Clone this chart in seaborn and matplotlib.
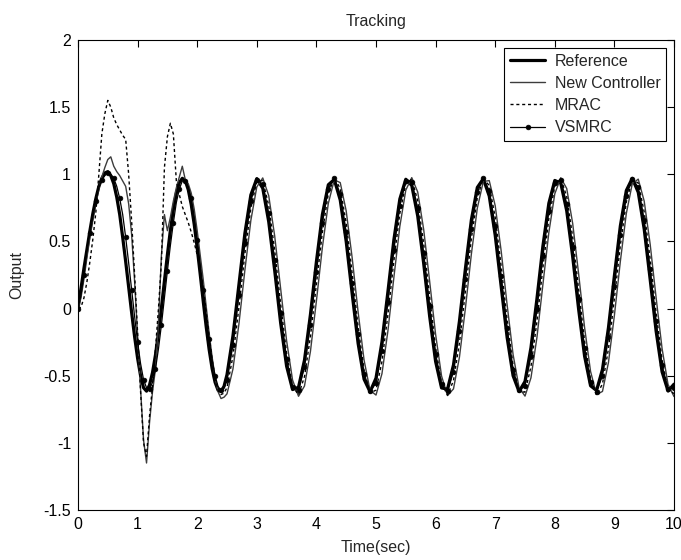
import numpy as np
import pandas as pd
import matplotlib
matplotlib.use("Agg")
import matplotlib.pyplot as plt
import seaborn as sns

# Sample times: fine steps during the start-up transient, coarser afterwards
t_start = np.round(np.arange(0.0, 2.5, 0.05), 2)
t_rest = np.round(np.arange(2.5, 10.0001, 0.1), 2)
time = np.concatenate([t_start, t_rest])

series_names = ["Reference", "New Controller", "MRAC", "VSMRC"]

reference_start = [
    0.00, 0.15, 0.30, 0.44, 0.58, 0.71, 0.82, 0.91, 0.97, 1.01,
    1.02, 0.99, 0.93, 0.83, 0.70, 0.53, 0.35, 0.16, -0.03, -0.21,
    -0.37, -0.50, -0.59, -0.615, -0.569, -0.477, -0.345, -0.180, 0.007, 0.205,
    0.401, 0.583, 0.739, 0.859, 0.938, 0.970, 0.952, 0.885, 0.774, 0.627,
    0.451, 0.258, 0.059, -0.132, -0.304, -0.446, -0.549, -0.608, -0.618, -0.579,
]
reference_rest = [
    -0.492, -0.203, 0.178, 0.560, 0.846, 0.968, 0.896, 0.647, 0.284, -0.107,
    -0.429, -0.603, -0.586, -0.384, -0.044, 0.349, 0.700, 0.922, 0.961, 0.808,
    0.499, 0.111, -0.260, -0.526, -0.620, -0.518, -0.248, 0.126, 0.512, 0.816,
    0.963, 0.917, 0.689, 0.336, -0.057, -0.394, -0.591, -0.600, -0.420, -0.094,
    0.297, 0.660, 0.902, 0.967, 0.838, 0.546, 0.165, -0.215, -0.500, -0.618,
    -0.543, -0.291, 0.072, 0.464, 0.784, 0.954, 0.934, 0.728, 0.387, -0.006,
    -0.355, -0.575, -0.610, -0.453, -0.143, 0.245, 0.616, 0.879, 0.970, 0.866,
    0.592, 0.217, -0.168, -0.471, -0.614, -0.563,
]

new_controller_start = [
    0.00, 0.08, 0.22, 0.38, 0.53, 0.66, 0.78, 0.89, 0.98, 1.05,
    1.11, 1.13, 1.06, 1.02, 0.99, 0.95, 0.91, 0.78, 0.55, 0.20,
    -0.20, -0.60, -0.98, -1.15, -0.85, -0.62, -0.45, -0.10, 0.40, 0.70,
    0.58, 0.68, 0.80, 0.90, 0.98, 1.06, 0.96, 0.93, 0.86, 0.74,
    0.58, 0.40, 0.22, 0.02, -0.18, -0.36, -0.51, -0.62, -0.67, -0.66,
]
new_controller_rest = [
    -0.635, -0.450, -0.115, 0.286, 0.656, 0.906, 0.973, 0.841, 0.541, 0.149,
    -0.239, -0.532, -0.653, -0.577, -0.319, 0.056, 0.455, 0.783, 0.959, 0.938,
    0.727, 0.378, -0.026, -0.384, -0.609, -0.644, -0.485, -0.166, 0.232, 0.612,
    0.882, 0.975, 0.868, 0.589, 0.204, -0.192, -0.502, -0.648, -0.598, -0.362,
    0.002, 0.405, 0.748, 0.946, 0.953, 0.766, 0.430, 0.028, -0.342, -0.588,
    -0.652, -0.516, -0.216, 0.178, 0.566, 0.855, 0.974, 0.894, 0.634, 0.258,
    -0.142, -0.468, -0.640, -0.617, -0.402, -0.051, 0.352, 0.708, 0.930, 0.964,
    0.800, 0.480, 0.081, -0.298, -0.565, -0.655,
]

mrac_start = [
    0.00, 0.01, 0.08, 0.20, 0.35, 0.52, 0.72, 1.00, 1.30, 1.45,
    1.55, 1.50, 1.42, 1.37, 1.33, 1.29, 1.26, 1.00, 0.65, 0.25,
    -0.18, -0.62, -1.00, -1.10, -0.80, -0.58, -0.30, 0.00, 0.35, 1.05,
    1.28, 1.38, 1.30, 0.95, 0.85, 0.76, 0.70, 0.64, 0.57, 0.49,
    0.40, 0.30, 0.16, -0.02, -0.20, -0.38, -0.52, -0.61, -0.64, -0.63,
]
mrac_rest = [
    -0.588, -0.354, 0.008, 0.408, 0.749, 0.947, 0.953, 0.767, 0.433, 0.034,
    -0.334, -0.579, -0.642, -0.507, -0.208, 0.182, 0.568, 0.856, 0.974, 0.894,
    0.636, 0.262, -0.136, -0.460, -0.630, -0.607, -0.394, -0.045, 0.356, 0.710,
    0.930, 0.964, 0.802, 0.483, 0.087, -0.290, -0.556, -0.645, -0.536, -0.255,
    0.129, 0.521, 0.826, 0.969, 0.916, 0.679, 0.316, -0.084, -0.424, -0.619,
    -0.622, -0.432, -0.096, 0.304, 0.669, 0.911, 0.971, 0.833, 0.532, 0.141,
    -0.244, -0.530, -0.644, -0.561, -0.300, 0.075, 0.472, 0.794, 0.961, 0.935,
    0.719, 0.368, -0.033, -0.385, -0.604, -0.633,
]

vsmrc_start = [
    0.00, 0.10, 0.25, 0.42, 0.56, 0.68, 0.80, 0.90, 0.96, 0.99,
    1.01, 1.00, 0.97, 0.91, 0.82, 0.70, 0.53, 0.34, 0.14, -0.06,
    -0.25, -0.41, -0.53, -0.59, -0.60, -0.55, -0.45, -0.30, -0.12, 0.08,
    0.28, 0.47, 0.64, 0.79, 0.89, 0.95, 0.95, 0.91, 0.82, 0.68,
    0.51, 0.33, 0.14, -0.05, -0.23, -0.38, -0.50, -0.58, -0.61, -0.59,
]
vsmrc_rest = [
    -0.532, -0.271, 0.099, 0.487, 0.800, 0.959, 0.926, 0.709, 0.362, -0.032,
    -0.374, -0.583, -0.606, -0.437, -0.119, 0.271, 0.638, 0.891, 0.969, 0.852,
    0.570, 0.191, -0.192, -0.485, -0.617, -0.555, -0.314, 0.047, 0.439, 0.766,
    0.949, 0.942, 0.747, 0.413, 0.020, -0.335, -0.565, -0.614, -0.470, -0.167,
    0.219, 0.594, 0.867, 0.970, 0.879, 0.615, 0.244, -0.144, -0.454, -0.610,
    -0.574, -0.354, -0.005, 0.388, 0.729, 0.935, 0.954, 0.782, 0.462, 0.072,
    -0.293, -0.544, -0.618, -0.499, -0.215, 0.165, 0.548, 0.839, 0.968, 0.902,
    0.658, 0.296, -0.095, -0.420, -0.600, -0.590,
]

x_ticks = [0, 1, 2, 3, 4, 5, 6, 7, 8, 9, 10]
y_ticks = [-1.5, -1.0, -0.5, 0.0, 0.5, 1.0, 1.5, 2.0]
y_tick_labels = ["-1.5", "-1", "-0.5", "0", "0.5", "1", "1.5", "2"]

values = {
    "Reference": reference_start + reference_rest,
    "New Controller": new_controller_start + new_controller_rest,
    "MRAC": mrac_start + mrac_rest,
    "VSMRC": vsmrc_start + vsmrc_rest,
}
df = pd.concat(
    [pd.DataFrame({"Time": time, "Output": values[n], "Signal": n}) for n in series_names],
    ignore_index=True,
)

sns.set_theme(style="white")
plt.rcParams["font.family"] = ["Liberation Sans", "DejaVu Sans"]
plt.rcParams["font.size"] = 11.5

fig = plt.figure(figsize=(6.81, 5.6), dpi=100)
ax = fig.add_axes([78 / 681, 50 / 560, 596 / 681, 470 / 560])

# markers on the VSMRC curve roughly every 0.1 s
mark_idx = [i for i, v in enumerate(time) if abs(v * 10 - round(v * 10)) < 1e-6]

styles = {
    "Reference": dict(color="black", linewidth=2.3),
    "New Controller": dict(color="#3c3c3c", linewidth=1.0),
    "MRAC": dict(color="black", linewidth=1.0, linestyle=(0, (2.2, 2.0))),
    "VSMRC": dict(color="black", linewidth=0.9, marker="o", markersize=3.4,
                  markerfacecolor="black", markeredgecolor="black",
                  markeredgewidth=0.5, markevery=mark_idx),
}

for name in series_names:
    sub = df[df["Signal"] == name]
    sns.lineplot(data=sub, x="Time", y="Output", ax=ax, label=name,
                 errorbar=None, sort=False, **styles[name])

ax.set_xlim(0, 10)
ax.set_ylim(-1.5, 2)
ax.set_xticks(x_ticks)
ax.set_xticklabels([str(v) for v in x_ticks])
ax.set_yticks(y_ticks)
ax.set_yticklabels(y_tick_labels)

for side in ["left", "right", "top", "bottom"]:
    ax.spines[side].set_visible(True)
    ax.spines[side].set_color("black")
    ax.spines[side].set_linewidth(0.8)

ax.tick_params(direction="in", length=5, width=0.8, top=True, right=True,
               labelsize=11.5, colors="black", pad=5)

ax.set_title("Tracking", fontsize=11.5, pad=10)
ax.set_xlabel("Time(sec)", fontsize=11.5, labelpad=6)
ax.set_ylabel("Output", fontsize=11.5, labelpad=14)

leg = ax.legend(loc="upper right", frameon=True, fancybox=False, edgecolor="black",
                framealpha=1, fontsize=11.5, handlelength=2.2, handletextpad=0.6,
                labelspacing=0.45, borderpad=0.35, borderaxespad=0.5)
leg.get_frame().set_linewidth(0.8)

fig.savefig("out.png", dpi=100)
